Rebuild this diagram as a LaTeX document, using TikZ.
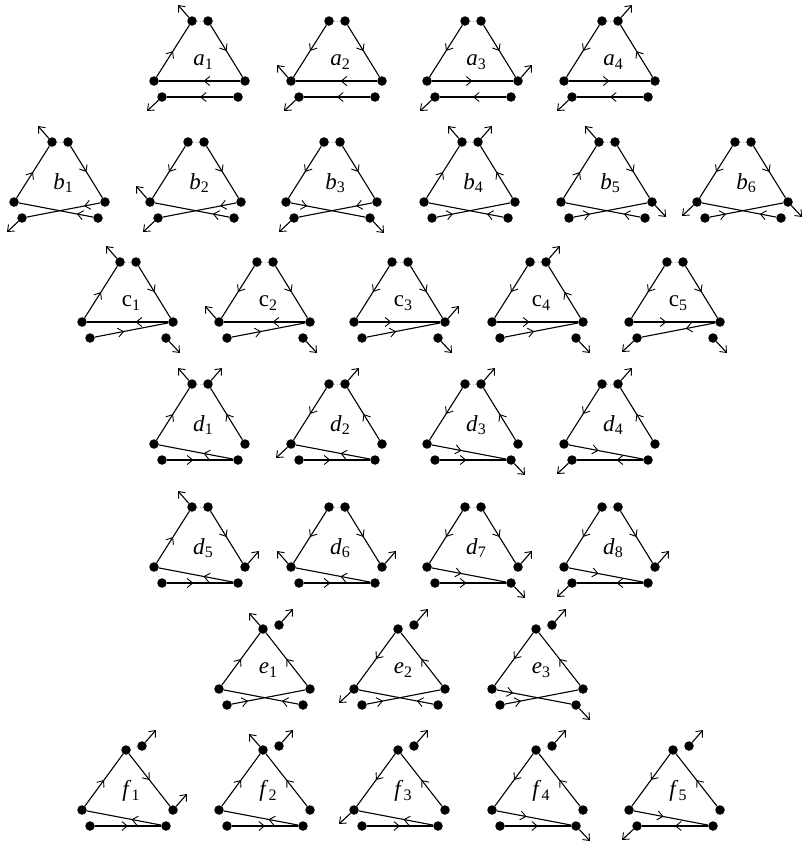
\documentclass[tikz,border=0pt]{standalone}
\usepackage{fontspec}
\setmainfont{Liberation Serif}
\usetikzlibrary{arrows.meta,decorations.markings}
\tikzset{
 dot/.style={circle,fill=black,inner sep=0pt,minimum size=9.5pt},
 edge/.style={line width=1.1pt},
 thick edge/.style={line width=1.9pt},
 mid/.style={postaction={decorate,decoration={markings,mark=at position #1 with {\arrow{Straight Barb[length=5.5pt,width=9pt,line width=0.9pt]}}}}},
 mid/.default=0.5,
 stub/.style={line width=1.1pt,-{Straight Barb[length=5.5pt,width=9pt,line width=0.9pt]}},
 dotl/.style={gray!55,dotted,line width=0.7pt},
 lab/.style={font=\fontsize{23}{25}\selectfont, inner sep=0pt}
}
\newcommand{\lb}[2]{\textit{#1}\raisebox{-0.35ex}{\fontsize{16}{16}\selectfont #2}}
% #1 prefix, #2 cx, #3 cy, #4 letter, #5 index, #6 dx of T1, #7 dx of T2, #8 dy of T2
\newcommand{\figgen}[8]{%
 \node[dot] (#1t1) at (#2+#6,#3) {};
 \node[dot] (#1t2) at (#2+#7,#3+#8) {};
 \node[dot] (#1l) at (#2-46,#3+60) {};
 \node[dot] (#1r) at (#2+45,#3+60) {};
 \node[dot] (#1bl) at (#2-38,#3+76) {};
 \node[dot] (#1br) at (#2+38,#3+76) {};
 \draw[dotl] (#1t1) -- (#1t2);
 \draw[dotl] (#1l) -- (#1bl);
 \draw[dotl] (#1r) -- (#1br);
 \node[lab] (#1lab) at (#2+3,#3+41) {\lb{#4}{#5}};
}
\newcommand{\fig}[5]{\figgen{#1}{#2}{#3}{#4}{#5}{-8}{8}{0}}
\newcommand{\figef}[5]{\figgen{#1}{#2}{#3}{#4}{#5}{-2}{14}{-4}}
\newcommand{\ed}[3][0.5]{\draw[edge,mid=#1] (#2) -- (#3);}
\newcommand{\eT}[3][0.5]{\draw[thick edge,mid=#1] (#2) -- (#3);}
\newcommand{\UL}[1]{\draw[stub] (#1) -- +(-14,-16);}
\newcommand{\UR}[1]{\draw[stub] (#1) -- +(14,-16);}
\newcommand{\DL}[1]{\draw[stub] (#1) -- +(-15,14);}
\newcommand{\DR}[1]{\draw[stub] (#1) -- +(14,15);}
\begin{document}
\begin{tikzpicture}[x=1pt,y=-1pt]
\useasboundingbox (0,0) rectangle (802,844);
% row a
\fig{a1}{200}{21}{a}{1}
\ed{a1l}{a1t1}\ed{a1t2}{a1r}\ed[0.45]{a1r}{a1l}\eT{a1br}{a1bl}\UL{a1t1}\DL{a1bl}
\fig{a2}{337}{21}{a}{2}
\ed{a2t1}{a2l}\ed{a2t2}{a2r}\ed[0.45]{a2r}{a2l}\eT{a2br}{a2bl}\UL{a2l}\DL{a2bl}
\fig{a3}{473}{21}{a}{3}
\ed{a3t1}{a3l}\ed{a3t2}{a3r}\ed[0.5]{a3l}{a3r}\eT{a3br}{a3bl}\UR{a3r}\DL{a3bl}
\fig{a4}{610}{21}{a}{4}
\ed{a4t1}{a4l}\ed{a4r}{a4t2}\ed[0.5]{a4l}{a4r}\eT{a4br}{a4bl}\UR{a4t2}\DL{a4bl}
% row b
\fig{b1}{60}{142}{b}{1}
\ed{b1l}{b1t1}\ed{b1t2}{b1r}\ed[0.22]{b1r}{b1bl}\ed[0.22]{b1br}{b1l}\UL{b1t1}\DL{b1bl}
\fig{b2}{196}{142}{b}{2}
\ed{b2t1}{b2l}\ed{b2t2}{b2r}\ed[0.22]{b2r}{b2bl}\ed[0.22]{b2br}{b2l}\UL{b2l}\DL{b2bl}
\fig{b3}{332}{142}{b}{3}
\ed{b3t1}{b3l}\ed{b3t2}{b3r}\ed[0.22]{b3l}{b3br}\ed[0.22]{b3r}{b3bl}\DL{b3bl}\DR{b3br}
\fig{b4}{470}{142}{b}{4}
\ed{b4l}{b4t1}\ed{b4r}{b4t2}\ed[0.22]{b4bl}{b4r}\ed[0.22]{b4br}{b4l}\UL{b4t1}\UR{b4t2}
\fig{b5}{607}{142}{b}{5}
\ed{b5l}{b5t1}\ed{b5t2}{b5r}\ed[0.22]{b5bl}{b5r}\ed[0.22]{b5br}{b5l}\UL{b5t1}\DR{b5r}
\fig{b6}{743}{142}{b}{6}
\ed{b6t1}{b6l}\ed{b6t2}{b6r}\ed[0.22]{b6bl}{b6r}\ed[0.22]{b6br}{b6l}\DL{b6l}\DR{b6r}
% row c
\fig{c1}{128}{262}{\textup{c}}{1}
\ed{c1l}{c1t1}\ed{c1t2}{c1r}\eT[0.4]{c1r}{c1l}\ed[0.4]{c1bl}{c1r}\UL{c1t1}\DR{c1br}
\fig{c2}{265}{262}{\textup{c}}{2}
\ed{c2t1}{c2l}\ed{c2t2}{c2r}\eT[0.4]{c2r}{c2l}\ed[0.4]{c2bl}{c2r}\UL{c2l}\DR{c2br}
\fig{c3}{400}{262}{\textup{c}}{3}
\ed{c3t1}{c3l}\ed{c3t2}{c3r}\eT[0.4]{c3l}{c3r}\ed[0.4]{c3bl}{c3r}\UR{c3r}\DR{c3br}
\fig{c4}{538}{262}{\textup{c}}{4}
\ed{c4t1}{c4l}\ed{c4r}{c4t2}\eT[0.4]{c4l}{c4r}\ed[0.4]{c4bl}{c4r}\UR{c4t2}\DR{c4br}
\fig{c5}{675}{262}{\textup{c}}{5}
\ed{c5t1}{c5l}\ed{c5t2}{c5r}\eT[0.4]{c5l}{c5r}\ed[0.4]{c5r}{c5bl}\DL{c5bl}\DR{c5br}
% row d
\fig{d1}{200}{384}{d}{1}
\ed{d1l}{d1t1}\ed{d1r}{d1t2}\ed[0.4]{d1br}{d1l}\eT[0.4]{d1bl}{d1br}\UL{d1t1}\UR{d1t2}
\fig{d2}{337}{384}{d}{2}
\ed{d2t1}{d2l}\ed{d2r}{d2t2}\ed[0.4]{d2br}{d2l}\eT[0.4]{d2bl}{d2br}\DL{d2l}\UR{d2t2}
\fig{d3}{473}{384}{d}{3}
\ed{d3t1}{d3l}\ed{d3r}{d3t2}\ed[0.4]{d3l}{d3br}\eT[0.4]{d3bl}{d3br}\UR{d3t2}\DR{d3br}
\fig{d4}{610}{384}{d}{4}
\ed{d4t1}{d4l}\ed{d4r}{d4t2}\ed[0.4]{d4l}{d4br}\eT[0.4]{d4br}{d4bl}\DL{d4bl}\UR{d4t2}
\fig{d5}{200}{507}{d}{5}
\ed{d5l}{d5t1}\ed{d5t2}{d5r}\ed[0.4]{d5br}{d5l}\eT[0.4]{d5bl}{d5br}\UL{d5t1}\UR{d5r}
\fig{d6}{337}{507}{d}{6}
\ed{d6t1}{d6l}\ed{d6t2}{d6r}\ed[0.4]{d6br}{d6l}\eT[0.4]{d6bl}{d6br}\UL{d6l}\UR{d6r}
\fig{d7}{473}{507}{d}{7}
\ed{d7t1}{d7l}\ed{d7t2}{d7r}\ed[0.4]{d7l}{d7br}\eT[0.4]{d7bl}{d7br}\UR{d7r}\DR{d7br}
\fig{d8}{610}{507}{d}{8}
\ed{d8t1}{d8l}\ed{d8t2}{d8r}\ed[0.4]{d8l}{d8br}\eT[0.4]{d8br}{d8bl}\DL{d8bl}\UR{d8r}
% row e
\figef{e1}{265}{629}{e}{1}
\ed{e1l}{e1t1}\ed{e1r}{e1t1}\ed[0.22]{e1bl}{e1r}\ed[0.22]{e1br}{e1l}\UL{e1t1}\UR{e1t2}
\figef{e2}{400}{629}{e}{2}
\ed{e2t1}{e2l}\ed{e2r}{e2t1}\ed[0.22]{e2bl}{e2r}\ed[0.22]{e2br}{e2l}\DL{e2l}\UR{e2t2}
\figef{e3}{538}{629}{e}{3}
\ed{e3t1}{e3l}\ed{e3r}{e3t1}\ed[0.22]{e3l}{e3br}\ed[0.22]{e3bl}{e3r}\DR{e3br}\UR{e3t2}
% row f
\figef{f1}{128}{750}{f}{1}
\ed{f1l}{f1t1}\ed{f1t1}{f1r}\ed[0.4]{f1br}{f1l}\eT{f1bl}{f1br}\UR{f1r}\UR{f1t2}
\figef{f2}{265}{750}{f}{2}
\ed{f2l}{f2t1}\ed{f2r}{f2t1}\ed[0.4]{f2br}{f2l}\eT{f2bl}{f2br}\UL{f2t1}\UR{f2t2}
\figef{f3}{400}{750}{f}{3}
\ed{f3t1}{f3l}\ed{f3r}{f3t1}\ed[0.4]{f3br}{f3l}\eT{f3bl}{f3br}\DL{f3l}\UR{f3t2}
\figef{f4}{538}{750}{f}{4}
\ed{f4t1}{f4l}\ed{f4r}{f4t1}\ed[0.4]{f4l}{f4br}\eT{f4bl}{f4br}\DR{f4br}\UR{f4t2}
\figef{f5}{675}{750}{f}{5}
\ed{f5t1}{f5l}\ed{f5r}{f5t1}\ed[0.4]{f5l}{f5br}\eT{f5br}{f5bl}\DL{f5bl}\UR{f5t2}
\end{tikzpicture}
\end{document}
